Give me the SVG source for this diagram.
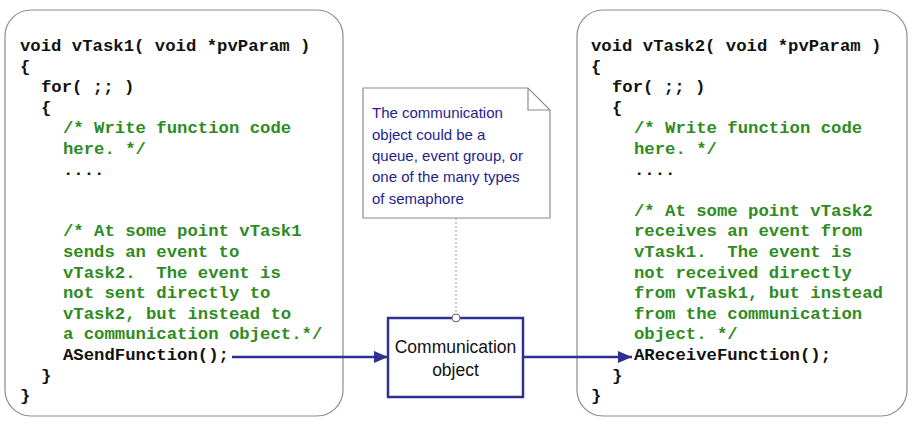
<svg xmlns="http://www.w3.org/2000/svg" width="914" height="426" viewBox="0 0 914 426">
<style>
.box{fill:#fff;stroke:#8c8c8c;stroke-width:1.2}
.c{font-family:"Liberation Mono",monospace;font-weight:bold;font-size:17.3px;fill:#111;white-space:pre}
.g{fill:#2e8b22}
.n{font-family:"Liberation Sans","Open Sans",sans-serif;font-size:15px;fill:#1e1e8c}
.o{font-family:"Liberation Sans","Open Sans",sans-serif;font-size:17.5px;fill:#111;text-anchor:middle}
.ln{stroke:#2e3192;stroke-width:2.5;fill:none}
</style>
<defs>
<marker id="a" viewBox="0 0 14 12" markerWidth="14" markerHeight="12" refX="14" refY="6" orient="auto" markerUnits="userSpaceOnUse"><path d="M0,0 L14,6 L0,12 Z" fill="#2e3192"/></marker></defs>
<rect width="914" height="426" fill="#fff"/>
<g id="task1">
<rect class="box" x="5" y="10" width="338" height="406" rx="26"/>
<text class="c" xml:space="preserve"><tspan x="20" y="51">void vTask1( void *pvParam )</tspan><tspan x="20" y="71.6">{</tspan><tspan x="41" y="92.2">for( ;; )</tspan><tspan x="41" y="112.8">{</tspan><tspan class="g" x="63" y="133.4">/* Write function code</tspan><tspan class="g" x="63" y="154">here. */</tspan><tspan x="63" y="174.6">....</tspan><tspan class="g" x="63" y="236.4">/* At some point vTask1</tspan><tspan class="g" x="63" y="257">sends an event to</tspan><tspan class="g" x="63" y="277.6">vTask2.  The event is</tspan><tspan class="g" x="63" y="298.2">not sent directly to</tspan><tspan class="g" x="63" y="318.8">vTask2, but instead to</tspan><tspan class="g" x="63" y="339.4">a communication object.*/</tspan><tspan x="63" y="360">ASendFunction();</tspan><tspan x="41" y="380.6">}</tspan><tspan x="20" y="401.2">}</tspan></text>
</g>
<g id="task2">
<rect class="box" x="577" y="10" width="330" height="406" rx="26"/>
<text class="c" xml:space="preserve"><tspan x="591" y="51">void vTask2( void *pvParam )</tspan><tspan x="591" y="71.6">{</tspan><tspan x="612" y="92.2">for( ;; )</tspan><tspan x="612" y="112.8">{</tspan><tspan class="g" x="634" y="133.4">/* Write function code</tspan><tspan class="g" x="634" y="154">here. */</tspan><tspan x="634" y="174.6">....</tspan><tspan class="g" x="634" y="215.8">/* At some point vTask2</tspan><tspan class="g" x="634" y="236.4">receives an event from</tspan><tspan class="g" x="634" y="257">vTask1.  The event is</tspan><tspan class="g" x="634" y="277.6">not received directly</tspan><tspan class="g" x="634" y="298.2">from vTask1, but instead</tspan><tspan class="g" x="634" y="318.8">from the communication</tspan><tspan class="g" x="634" y="339.4">object. */</tspan><tspan x="634" y="360">AReceiveFunction();</tspan><tspan x="612" y="380.6">}</tspan><tspan x="591" y="401.2">}</tspan></text>
</g>
<g id="note">
<path d="M363,88 H528 L550,110 V218 H363 Z M528,88 V110 H550" fill="#fff" stroke="#8c8c8c" stroke-width="1.2"/>
<text class="n"><tspan x="372" y="118">The communication</tspan><tspan x="372" y="139.5">object could be a</tspan><tspan x="372" y="161">queue, event group, or</tspan><tspan x="372" y="182">one of the many types</tspan><tspan x="372" y="203.5">of semaphore</tspan></text>
</g>
<g id="commobj">
<rect x="388" y="318" width="135" height="79" fill="#fff" stroke="#2e3192" stroke-width="2.5"/>
<text class="o"><tspan x="455.5" y="353">Communication</tspan><tspan x="455.5" y="376">object</tspan></text>
</g>
<g id="connectors">
<line x1="456" y1="218" x2="456" y2="314" stroke="#999" stroke-width="1" stroke-dasharray="2,2"/>
<circle cx="456" cy="318" r="4" fill="#fff" stroke="#666" stroke-width="1"/>
<line class="ln" x1="232" y1="357" x2="388" y2="357" marker-end="url(#a)"/>
<line class="ln" x1="523" y1="357" x2="632" y2="357" marker-end="url(#a)"/>
</g>
</svg>
